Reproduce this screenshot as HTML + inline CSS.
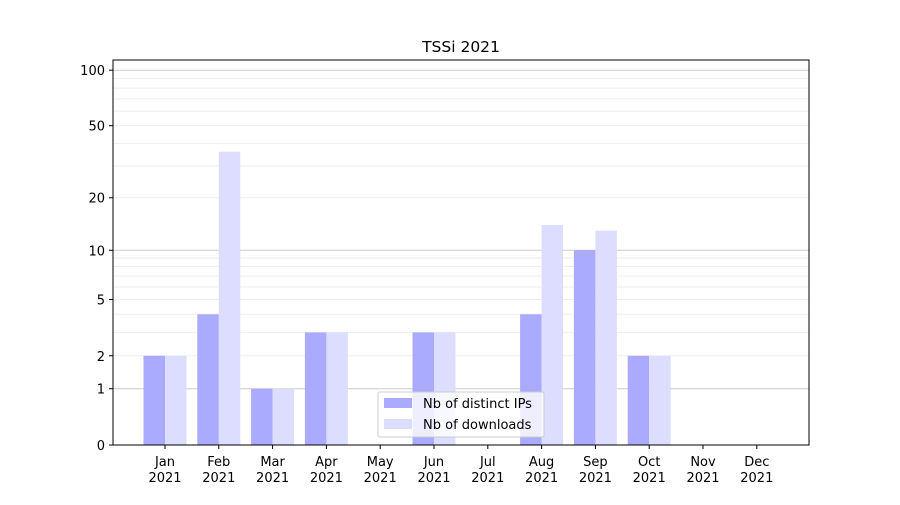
<!DOCTYPE html>
<html><head><meta charset="utf-8"><style>
body{margin:0;background:#fff;}
svg text{font-family:"DejaVu Sans","Liberation Sans",sans-serif;font-size:13px;fill:#000;}
</style></head><body>
<svg id="chart" width="900" height="500">
<rect width="900" height="500" fill="#fff"/>
<text x="461" y="52" text-anchor="middle" style="font-size:15.5px">TSSi 2021</text>
<g id="grid"></g><g id="bars"></g><g id="axes"></g>
<g>
<rect x="378" y="392" width="166" height="45" fill="#fff" fill-opacity="0.8" stroke="#ccc" rx="2"/>
<rect x="384" y="398" width="28" height="10" fill="#aaaaff"/>
<text x="423" y="408">Nb of distinct IPs</text>
<rect x="384" y="419" width="28" height="10" fill="#ddddff"/>
<text x="423" y="429">Nb of downloads</text>
</g>
</svg>
<script>
const months=["Jan","Feb","Mar","Apr","May","Jun","Jul","Aug","Sep","Oct","Nov","Dec"];
const ips=[2,4,1,3,0,3,0,4,10,2,0,0];
const downloads=[2,36,1,3,0,3,0,14,13,2,0,0];
const yTicks=[0,1,2,5,10,20,50,100];
const NS="http://www.w3.org/2000/svg";
const L=113,R=809,T=60,B=445,K=187;
function y(v){return B-K*Math.log10(1+v);}
function x(i){return 165+i*53.8;}
function mk(tag,attrs,parent){const e=document.createElementNS(NS,tag);for(const k in attrs)e.setAttribute(k,attrs[k]);parent.appendChild(e);return e;}
const grid=document.getElementById('grid'),bars=document.getElementById('bars'),axes=document.getElementById('axes');
for(let d=1;d<=100;d*=10){for(let m=1;m<10;m++){const v=m*d;if(v>113)break;
const l=mk('line',{x1:L,x2:R,y1:y(v),y2:y(v),stroke:m==1?'#cccccc':'#eeeeee','stroke-width':1},grid);

}}
months.forEach((m,i)=>{
const cx=x(i);
const b1=mk('rect',{x:cx-21.5,y:y(ips[i]),width:21.5,height:B-y(ips[i]),fill:'#aaaaff'},bars);


const b2=mk('rect',{x:cx,y:y(downloads[i]),width:21.5,height:B-y(downloads[i]),fill:'#ddddff'},bars);


mk('line',{x1:cx,x2:cx,y1:B,y2:B+4,stroke:'#000'},axes);
const t=mk('text',{x:cx,y:B+21,'text-anchor':'middle'},axes);t.textContent=m;


const t2=mk('text',{x:cx,y:B+37,'text-anchor':'middle'},axes);t2.textContent='2021';


});
yTicks.forEach(v=>{
mk('line',{x1:L-4,x2:L,y1:y(v),y2:y(v),stroke:'#000'},axes);
const t=mk('text',{x:L-8,y:y(v)+5,'text-anchor':'end'},axes);t.textContent=v;


});
const f=mk('rect',{x:L,y:T,width:R-L,height:B-T,fill:'none',stroke:'#000','stroke-width':1},axes);


</script>
</body></html>
